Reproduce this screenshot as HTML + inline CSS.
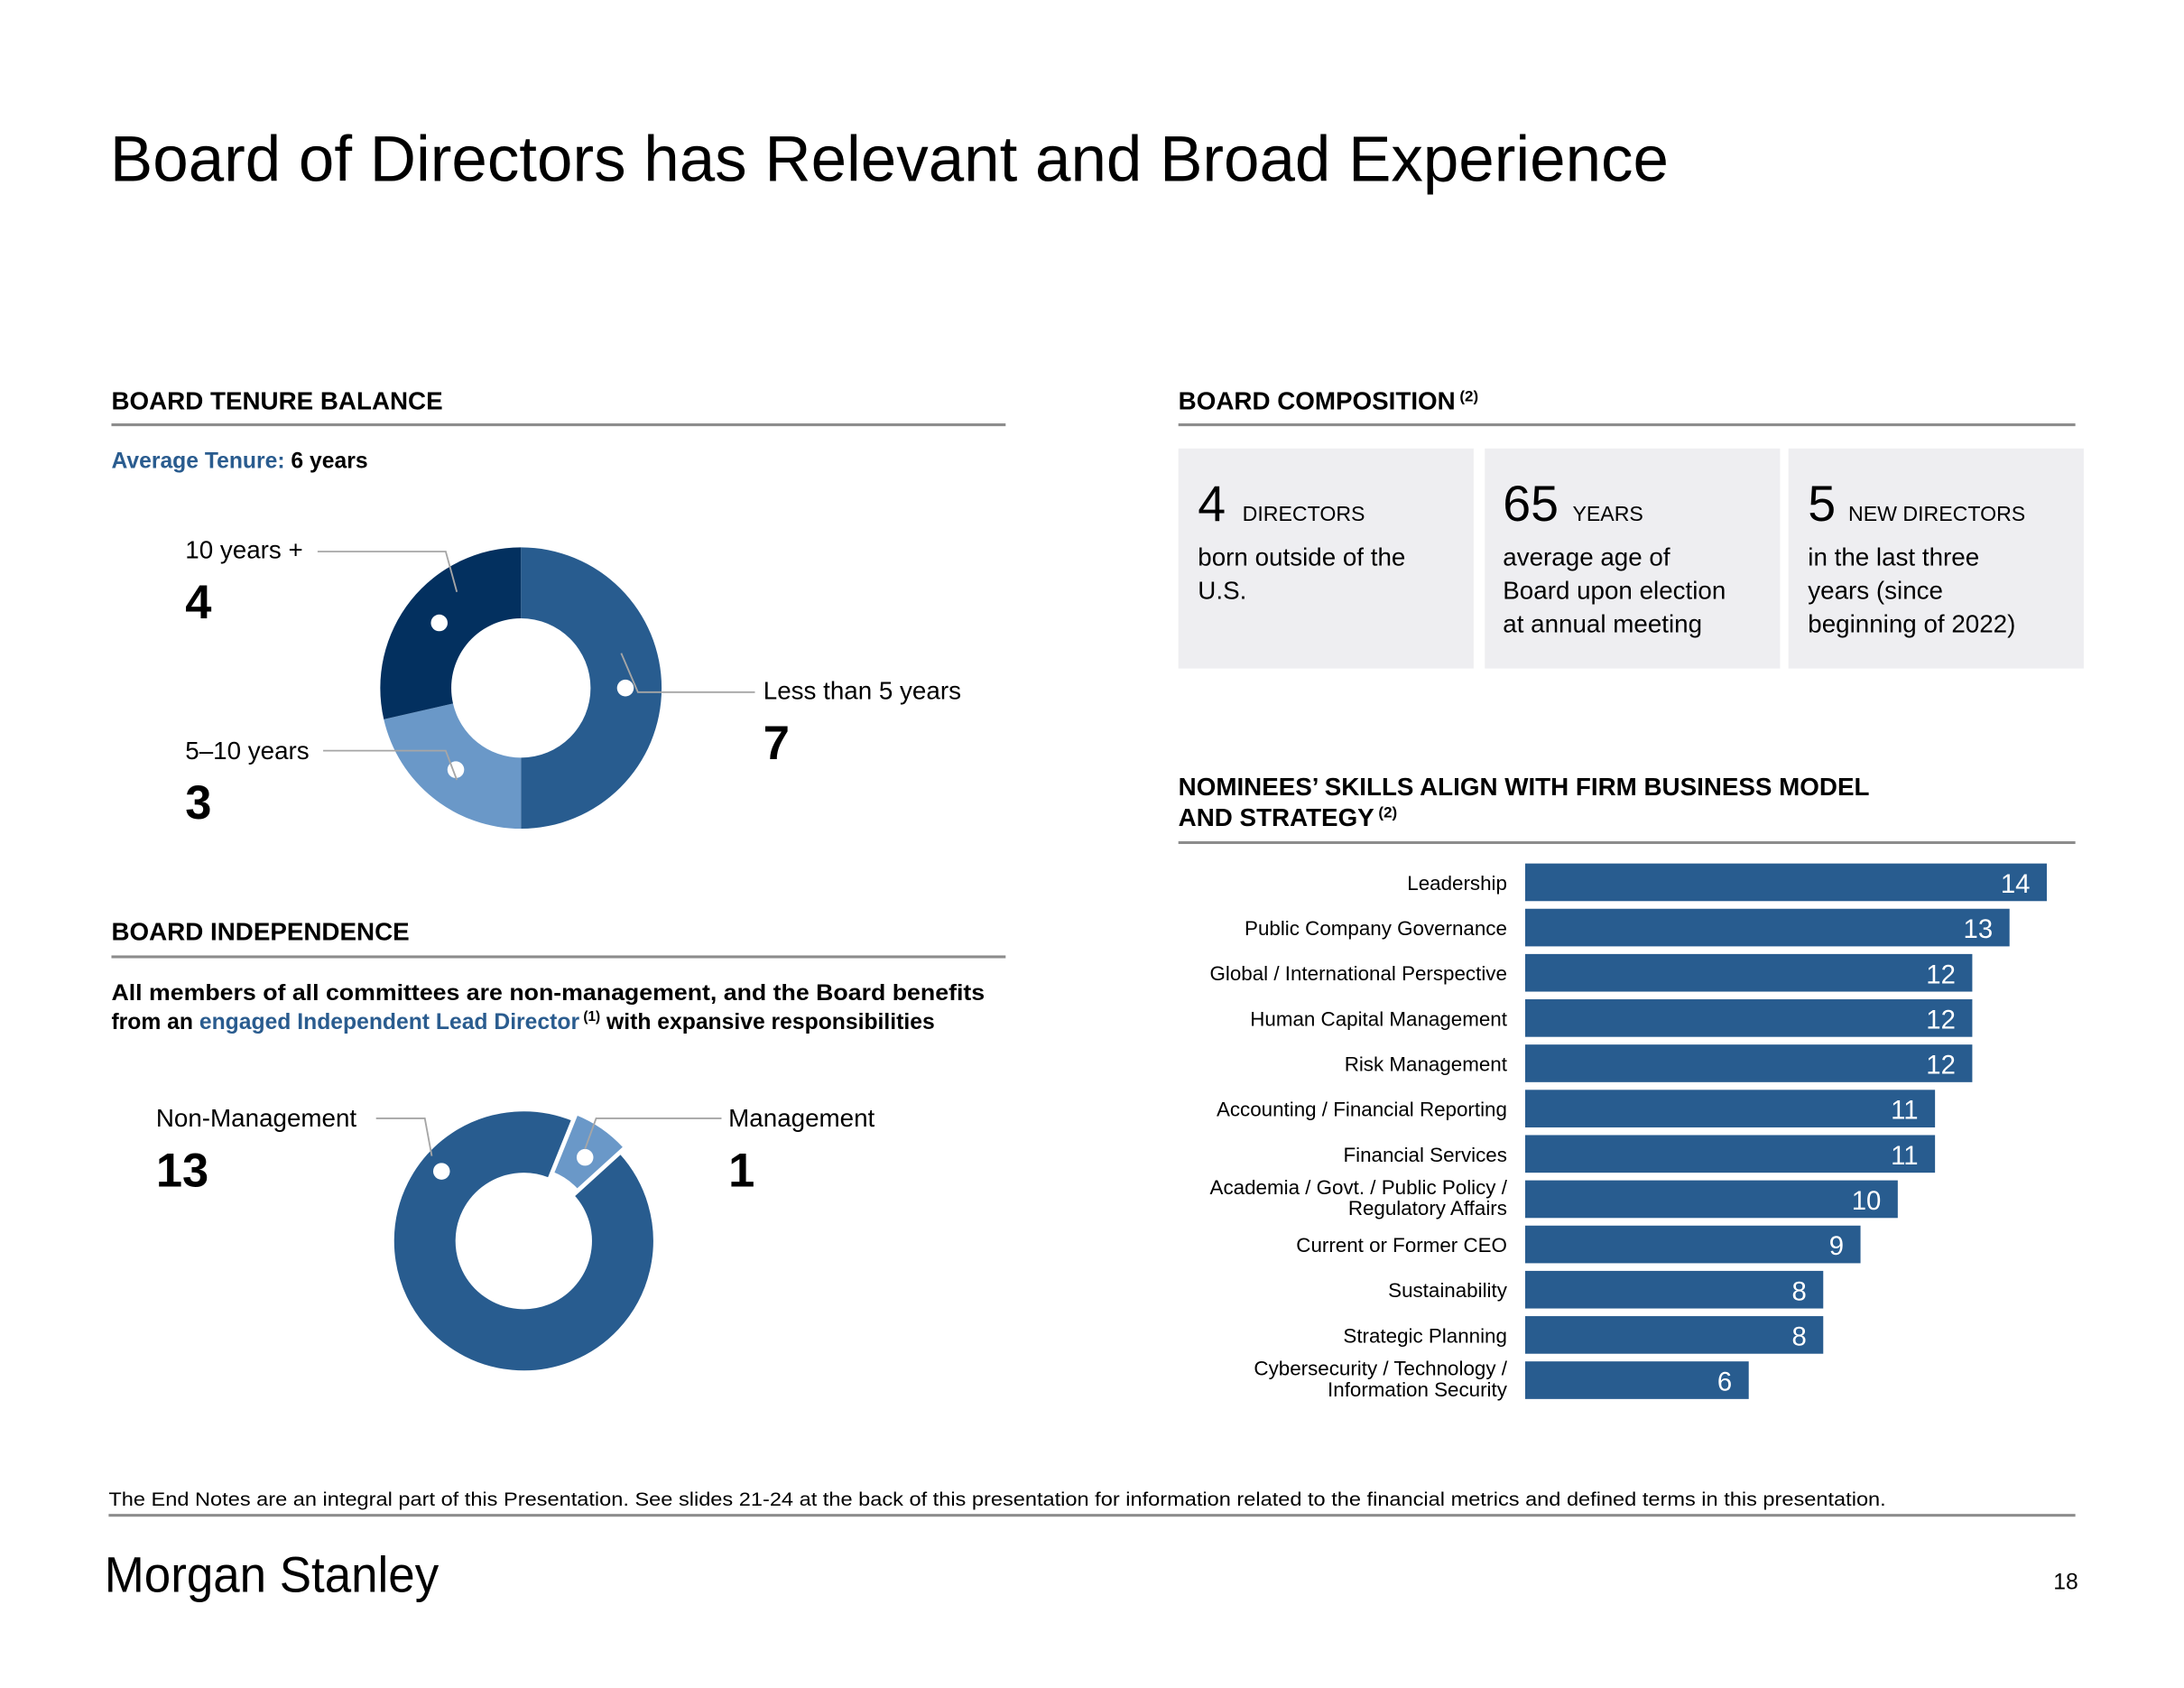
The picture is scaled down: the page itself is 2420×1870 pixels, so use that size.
<!DOCTYPE html>
<html><head><meta charset="utf-8"><style>
html,body{margin:0;padding:0;background:#fff;}
svg{display:block;font-family:"Liberation Sans",Arial,sans-serif;}
</style></head><body>
<svg id="s" width="2420" height="1870" viewBox="0 0 1568 1212" preserveAspectRatio="none" xmlns="http://www.w3.org/2000/svg">
<text x="79" y="130" font-size="46" fill="#000" textLength="1119" lengthAdjust="spacingAndGlyphs">Board of Directors has Relevant and Broad Experience</text>

<text x="80" y="294" font-size="18" font-weight="bold" fill="#000">BOARD TENURE BALANCE</text>
<rect x="80" y="304" width="642" height="2" fill="#8c8c8c"/>
<text x="80" y="336" font-size="16" font-weight="bold"><tspan fill="#2a5c8f">Average Tenure:</tspan><tspan fill="#000"> 6 years</tspan></text>

<g id="donut1"></g>
<g>
<polyline points="228,396 320,396 328,425" fill="none" stroke="#a6a6a6" stroke-width="1.2"/>
<polyline points="232,539 320,539 328,560" fill="none" stroke="#a6a6a6" stroke-width="1.2"/>
<polyline points="446,469 458,497 542,497" fill="none" stroke="#a6a6a6" stroke-width="1.2"/>
<text x="133" y="401" font-size="18">10 years +</text>
<text x="133" y="444" font-size="34" font-weight="bold">4</text>
<text x="133" y="545" font-size="18">5–10 years</text>
<text x="133" y="588" font-size="34" font-weight="bold">3</text>
<text x="548" y="502" font-size="18">Less than 5 years</text>
<text x="548" y="545" font-size="34" font-weight="bold">7</text>
</g>

<text x="80" y="675" font-size="18" font-weight="bold">BOARD INDEPENDENCE</text>
<rect x="80" y="686" width="642" height="2" fill="#8c8c8c"/>
<text x="80" y="718" font-size="16" font-weight="bold" textLength="627" lengthAdjust="spacingAndGlyphs">All members of all committees are non-management, and the Board benefits</text>
<text x="80" y="739" font-size="16" font-weight="bold">from an <tspan fill="#2a5c8f">engaged Independent Lead Director</tspan><tspan font-size="10" dy="-6"> (1)</tspan><tspan dy="6"> with expansive responsibilities</tspan></text>

<g id="donut2"></g>
<g>
<polyline points="270,803 305,803 310,830" fill="none" stroke="#a6a6a6" stroke-width="1.2"/>
<polyline points="518,803 428,803 420,825" fill="none" stroke="#a6a6a6" stroke-width="1.2"/>
<text x="112" y="809" font-size="18">Non-Management</text>
<text x="112" y="852" font-size="34" font-weight="bold">13</text>
<text x="523" y="809" font-size="18">Management</text>
<text x="523" y="852" font-size="34" font-weight="bold">1</text>
</g>

<text x="846" y="294" font-size="18" font-weight="bold">BOARD COMPOSITION<tspan font-size="11" dy="-6"> (2)</tspan></text>
<rect x="846" y="304" width="644" height="2" fill="#8c8c8c"/>
<g>
<rect x="846" y="322" width="212" height="158" fill="#eeeef1"/>
<text x="860" y="374" font-size="36">4</text><text x="892" y="374" font-size="15">DIRECTORS</text>
<text x="860" y="406" font-size="18">born outside of the</text><text x="860" y="430" font-size="18">U.S.</text>
</g>
<g>
<rect x="1066" y="322" width="212" height="158" fill="#eeeef1"/>
<text x="1079" y="374" font-size="36">65</text><text x="1129" y="374" font-size="15">YEARS</text>
<text x="1079" y="406" font-size="18">average age of</text><text x="1079" y="430" font-size="18">Board upon election</text><text x="1079" y="454" font-size="18">at annual meeting</text>
</g>
<g>
<rect x="1284" y="322" width="212" height="158" fill="#eeeef1"/>
<text x="1298" y="374" font-size="36">5</text><text x="1327" y="374" font-size="15">NEW DIRECTORS</text>
<text x="1298" y="406" font-size="18">in the last three</text><text x="1298" y="430" font-size="18">years (since</text><text x="1298" y="454" font-size="18">beginning of 2022)</text>
</g>

<text x="846" y="571" font-size="18" font-weight="bold">NOMINEES’ SKILLS ALIGN WITH FIRM BUSINESS MODEL</text>
<text x="846" y="593" font-size="18" font-weight="bold">AND STRATEGY<tspan font-size="11" dy="-6"> (2)</tspan></text>
<rect x="846" y="604" width="644" height="2" fill="#8c8c8c"/>
<g id="bars"></g>

<text x="78" y="1081" font-size="14" fill="#000" textLength="1276" lengthAdjust="spacingAndGlyphs">The End Notes are an integral part of this Presentation. See slides 21-24 at the back of this presentation for information related to the financial metrics and defined terms in this presentation.</text>
<rect x="78" y="1087" width="1412" height="2" fill="#8c8c8c"/>
<text x="75" y="1143" font-size="36" fill="#000" textLength="240" lengthAdjust="spacingAndGlyphs">Morgan Stanley</text>
<text x="1492" y="1141" font-size="16" text-anchor="end">18</text>
</svg>
<script>
const tenureCategories = ["Less than 5 years", "5–10 years", "10 years +"];
const tenureValues = [7, 3, 4];
const tenureColors = ["#285c8f", "#6a98c8", "#03305f"];
const indepCategories = ["Management", "Non-Management"];
const indepValues = [1, 13];
const skillCategories = ["Leadership","Public Company Governance","Global / International Perspective","Human Capital Management","Risk Management","Accounting / Financial Reporting","Financial Services","Academia / Govt. / Public Policy /|Regulatory Affairs","Current or Former CEO","Sustainability","Strategic Planning","Cybersecurity / Technology /|Information Security"];
const skillValues = [14,13,12,12,12,11,11,10,9,8,8,6];

const NS = "http://www.w3.org/2000/svg";
function mk(tag, attrs, parent){const e=document.createElementNS(NS,tag);for(const k in attrs)e.setAttribute(k,attrs[k]);parent.appendChild(e);return e;}
function pt(cx,cy,r,a){const t=a*Math.PI/180;return [cx+r*Math.sin(t), cy-r*Math.cos(t)];}
function arc(cx,cy,ro,ri,a0,a1){
  const l=(a1-a0)>180?1:0;
  const p0=pt(cx,cy,ro,a0),p1=pt(cx,cy,ro,a1),p2=pt(cx,cy,ri,a1),p3=pt(cx,cy,ri,a0);
  return `M${p0}A${ro},${ro} 0 ${l} 1 ${p1}L${p2}A${ri},${ri} 0 ${l} 0 ${p3}Z`;
}
(function(){
  const g=document.getElementById('donut1');
  const tot=tenureValues.reduce((a,b)=>a+b,0);
  let a=0;
  tenureValues.forEach((v,i)=>{
    const a1=a+v/tot*360;
    const p=mk('path',{d:arc(374,494,101,50,a,a1),fill:tenureColors[i]},g);
    
    
    const mid=(a+a1)/2;
    const d=pt(374,494,75,mid);
    const c=mk('circle',{cx:d[0],cy:d[1],r:6,fill:'#fff'},g);
    
    
    a=a1;
  });
})();
(function(){
  const g=document.getElementById('donut2');
  const tot=indepValues.reduce((a,b)=>a+b,0);
  let a=22;
  const cols=["#6a98c8","#285c8f"];
  indepValues.forEach((v,i)=>{
    const a1=a+v/tot*360;
    const mid=(a+a1)/2;
    const off=i===0?pt(0,0,5,mid):[0,0];
    const p=mk('path',{d:arc(376+off[0],891+off[1],94,48,a,a1),fill:cols[i],stroke:'#fff','stroke-width':2},g);
    
    
    a=a1;
  });
  [[420,831],[317,841]].forEach(d=>{
    const c=mk('circle',{cx:d[0],cy:d[1],r:6,fill:'#fff'},g);
    
    
  });
})();
(function(){
  const g=document.getElementById('bars');
  const x0=1095, unit=26.75, top=620, step=32.5, bh=27;
  const xs=v=>v*unit;
  skillValues.forEach((v,i)=>{
    const y=top+i*step;
    const r=mk('rect',{x:x0,y:y,width:xs(v),height:bh,fill:'#285c8f'},g);
    
    
    const t=mk('text',{x:x0+xs(v)-12,y:y+21,'font-size':19,fill:'#fff','text-anchor':'end'},g);
    t.textContent=v;
    
    
    const parts=skillCategories[i].split('|');
    parts.forEach((s,j)=>{
      const yy=parts.length===1?y+19:y+10+j*15;
      const l=mk('text',{x:1082,y:yy,'font-size':14.5,fill:'#000','text-anchor':'end'},g);
      l.textContent=s;
      
      
    });
  });
})();
</script>
</body></html>
